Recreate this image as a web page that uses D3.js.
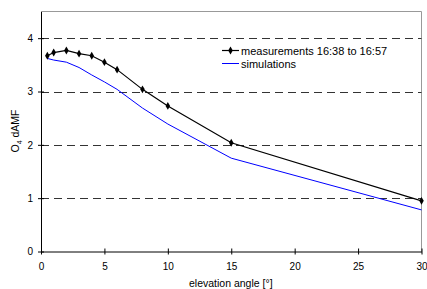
<!DOCTYPE html>
<html>
<head>
<meta charset="utf-8">
<script src="https://cdn.jsdelivr.net/npm/d3@7"></script>
<style>
  body { margin: 0; background: #fff; }
  svg text { font-family: "Liberation Sans", Arial, sans-serif; fill: #000; }
</style>
</head>
<body>
<svg id="chart" width="427" height="289"></svg>
<script>
// ---- DATA ----
const elevation    = [0.5, 1, 2, 3, 4, 5, 6, 8, 10, 15, 30];
const measurements = [3.67, 3.73, 3.77, 3.71, 3.67, 3.55, 3.41, 3.04, 2.73, 2.04, 0.95];
const simulations  = [3.62, 3.59, 3.55, 3.45, 3.31, 3.18, 3.04, 2.69, 2.39, 1.75, 0.78];
const xTicks = [0, 5, 10, 15, 20, 25, 30];
const yTicks = [0, 1, 2, 3, 4];
const gridVals = [1, 2, 3, 4];
const legendLabels = ["measurements 16:38 to 16:57", "simulations"];

// ---- LAYOUT ----
const svg = d3.select("#chart");
const plotL = 41, plotR = 421.5, plotT = 11.5, plotB = 251.5;

const x = d3.scaleLinear().domain([0, 30]).range([plotL, plotR]);
const y = d3.scaleLinear().domain([0, 4.5]).range([plotB, plotT]);

// plot-area border (gray top/right)
svg.append("path")
  .attr("d", `M${plotL},${plotT}H${plotR}V${plotB}`)
  .attr("fill", "none")
  .attr("stroke", "#999")
  .attr("stroke-width", 1);

// dashed gridlines
svg.append("g")
  .selectAll("line")
  .data(gridVals)
  .join("line")
  .attr("x1", plotL).attr("x2", plotR)
  .attr("y1", d => Math.round(y(d)) + 0.5)
  .attr("y2", d => Math.round(y(d)) + 0.5)
  .attr("stroke", "#333")
  .attr("stroke-width", 1)
  .attr("stroke-dasharray", "8,5");

// axes
const fmt = d3.format("d");
const xAxis = d3.axisBottom(x).tickValues(xTicks).tickFormat(fmt).tickSizeInner(3).tickSizeOuter(0).tickPadding(8);
const yAxis = d3.axisLeft(y).tickValues(yTicks).tickFormat(fmt).tickSizeInner(3).tickSizeOuter(0).tickPadding(5);

const gx = svg.append("g").attr("transform", `translate(0,${plotB})`).call(xAxis);
const gy = svg.append("g").attr("transform", `translate(${plotL},0)`).call(yAxis);

[gx, gy].forEach(g => {
  g.select(".domain").attr("stroke", "#000").attr("stroke-width", 1);
  g.selectAll(".tick line").attr("stroke", "#000");
  g.selectAll("text").attr("font-size", 10).attr("font-family", "Liberation Sans, Arial, sans-serif");
});
// cross-style tick marks
gx.selectAll(".tick line").attr("y1", -3).attr("y2", 3);
gy.selectAll(".tick line").attr("x1", -3).attr("x2", 3);

// axis titles
svg.append("text")
  .attr("x", (plotL + plotR) / 2 - 0.5)
  .attr("y", 287)
  .attr("text-anchor", "middle")
  .attr("font-size", 10.5)
  .text("elevation angle [°]");

const yt = svg.append("text")
  .attr("transform", `translate(19,131) rotate(-90)`)
  .attr("text-anchor", "middle")
  .attr("font-size", 10.5);
yt.append("tspan").text("O");
yt.append("tspan").attr("font-size", 7).attr("dy", 2.5).text("4");
yt.append("tspan").attr("dy", -2.5).text(" dAMF");

// ---- LINES ----
const line = d3.line().x((d, i) => x(elevation[i])).y(d => y(d));

svg.append("path")
  .attr("d", line(simulations))
  .attr("fill", "none")
  .attr("stroke", "#0000ff")
  .attr("stroke-width", 1);

svg.append("path")
  .attr("d", line(measurements))
  .attr("fill", "none")
  .attr("stroke", "#000")
  .attr("stroke-width", 1.2);

const diamond = d3.symbol().type(d3.symbolDiamond).size(18);
svg.append("g")
  .selectAll("path")
  .data(measurements)
  .join("path")
  .attr("transform", (d, i) => `translate(${x(elevation[i])},${y(d)})`)
  .attr("d", diamond)
  .attr("fill", "#000");

// ---- LEGEND ----
const lg = svg.append("g").attr("transform", "translate(222,0)");
lg.append("line").attr("x1", 0).attr("x2", 17).attr("y1", 50.5).attr("y2", 50.5)
  .attr("stroke", "#000").attr("stroke-width", 1.2);
lg.append("path").attr("transform", "translate(8.5,50.5)").attr("d", diamond).attr("fill", "#000");
lg.append("line").attr("x1", 0).attr("x2", 17).attr("y1", 63.5).attr("y2", 63.5)
  .attr("stroke", "#0000ff").attr("stroke-width", 1);
lg.selectAll("text.lab")
  .data(legendLabels)
  .join("text")
  .attr("class", "lab")
  .attr("x", 19)
  .attr("y", (d, i) => 54.5 + i * 13)
  .attr("font-size", 11)
  .text(d => d);
</script>
</body>
</html>
